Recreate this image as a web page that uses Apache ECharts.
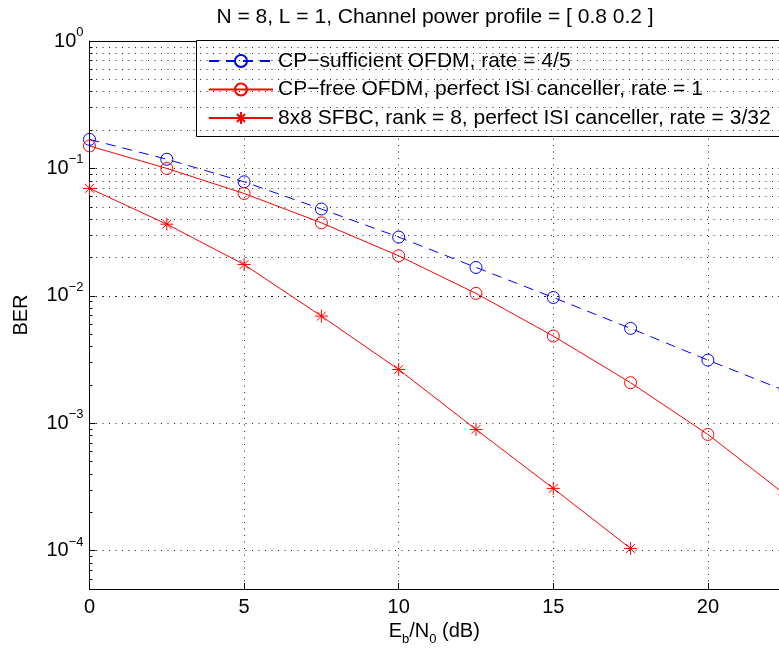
<!DOCTYPE html>
<html>
<head>
<meta charset="utf-8">
<script src="https://cdn.jsdelivr.net/npm/echarts@6/dist/echarts.min.js"></script>
<style>
  html, body { margin: 0; padding: 0; background: #fff; }
  #ber_chart { width: 779px; height: 653px; }
</style>
</head>
<body>
<div id="ber_chart"></div>
<script>
// Eb/N0 (dB) sample points
const ebn0 = [0, 2.5, 5, 7.5, 10, 12.5, 15, 17.5, 20, 22.5];
const ebn0_sfbc = [0, 2.5, 5, 7.5, 10, 12.5, 15, 17.5];

// BER
const ber_cp_sufficient = [0.169, 0.118, 0.0785, 0.048, 0.0289, 0.0167, 0.0097, 0.00555, 0.00313, 0.0018];
const ber_cp_free = [0.150, 0.0999, 0.0636, 0.0374, 0.0206, 0.01045, 0.00483, 0.00208, 0.000817, 0.000276];
const ber_sfbc = [0.0697, 0.0365, 0.0176, 0.00693, 0.00264, 0.000894, 0.000308, 0.000104];

const series_names = [
  'CP−sufficient OFDM, rate = 4/5',
  'CP−free OFDM, perfect ISI canceller, rate = 1',
  '8x8 SFBC, rank = 8, perfect ISI canceller, rate = 3/32'
];

// minor grid rows of the log axis (2..9 per decade)
const minor_mantissa = [2, 3, 4, 5, 6, 7, 8, 9];
const minor_decades = [1e-5, 1e-4, 1e-3, 1e-2, 1e-1];

const font = 'Liberation Sans, Arial, Helvetica, sans-serif';
const star = 'path://M5,0L5,10M0,5L10,5M1.6,1.6L8.4,8.4M8.4,1.6L1.6,8.4';
const dots = {color: '#222', width: 1, type: [1, 5.5]};

const minor_rows = [];
minor_decades.forEach(d => {
  minor_mantissa.forEach(m => {
    const v = m * d;
    if (v > 5.01e-5 && v < 1) minor_rows.push({yAxis: v});
  });
});

const pairs = (xs, ys) => ys.map((y, i) => [xs[i], y]);

const sup = (v) => {
  const e = Math.round(Math.log10(v));
  if (Math.abs(Math.log10(v) - e) > 1e-6) return '';
  return '{b|10}{s|' + (e < 0 ? '−' + (-e) : e) + '}';
};

const chart = echarts.init(document.getElementById('ber_chart'));
const option = {
  backgroundColor: '#fff',
  animation: false,
  title: {
    text: 'N = 8, L = 1, Channel power profile = [ 0.8 0.2 ]',
    left: 435,
    top: 7,
    padding: 0,
    textAlign: 'center',
    textStyle: {fontSize: 21, fontWeight: 'normal', color: '#000', fontFamily: font}
  },
  // legend box runs past the right edge of the picture
  graphic: [{
    type: 'rect',
    z: 3,
    silent: true,
    shape: {x: 196.5, y: 40.5, width: 700, height: 96},
    style: {fill: '#fff', stroke: '#000', lineWidth: 1}
  }],
  legend: {
    data: series_names,
    orient: 'vertical',
    left: 196,
    top: 40,
    padding: [9, 40, 8, 12],
    itemGap: 4.5,
    itemWidth: 64,
    itemHeight: 15,
    z: 4,
    borderWidth: 0,
    selectedMode: false,
    textStyle: {fontSize: 21, lineHeight: 24, color: '#000', fontFamily: font}
  },
  grid: {left: 89.5, right: 0, top: 41, bottom: 64, containLabel: false},
  xAxis: [
    {
      type: 'value',
      min: 0,
      max: 22.3,
      interval: 5,
      name: '{n|E}{sub|b}{n|/N}{sub|0}{n| (dB)}',
      nameLocation: 'middle',
      nameGap: 24,
      nameTextStyle: {
        rich: {
          n: {fontSize: 20, color: '#000', fontFamily: font},
          sub: {fontSize: 13, color: '#000', fontFamily: font, padding: [16, 0, 0, 0]}
        }
      },
      axisLine: {lineStyle: {color: '#000', width: 1}},
      axisTick: {inside: true, length: 6, lineStyle: {color: '#000'}},
      axisLabel: {fontSize: 20, color: '#000', fontFamily: font, margin: 8, showMaxLabel: false},
      splitLine: {show: true, lineStyle: dots}
    },
    {
      type: 'value',
      position: 'top',
      min: 0,
      max: 22.3,
      interval: 5,
      axisLine: {lineStyle: {color: '#000', width: 1}},
      axisTick: {inside: true, length: 6, lineStyle: {color: '#000'}},
      axisLabel: {show: false},
      splitLine: {show: false}
    }
  ],
  yAxis: {
    type: 'log',
    logBase: 10,
    min: 5e-5,
    max: 1,
    name: 'BER',
    nameLocation: 'middle',
    nameGap: 58,
    nameTextStyle: {fontSize: 20, color: '#000', fontFamily: font},
    axisLine: {show: true, lineStyle: {color: '#000', width: 1}},
    axisTick: {inside: true, length: 6, lineStyle: {color: '#000'}},
    minorTick: {show: true, splitNumber: 9, length: 3, lineStyle: {color: '#000'}},
    axisLabel: {
      margin: 6,
      formatter: sup,
      rich: {
        b: {fontSize: 20, color: '#000', fontFamily: font},
        s: {fontSize: 13, color: '#000', fontFamily: font, padding: [0, 0, 17, 0]}
      }
    },
    splitLine: {show: true, lineStyle: dots}
  },
  series: [
    {
      name: 'minor_grid',
      type: 'line',
      data: [],
      silent: true,
      z: 1,
      markLine: {
        silent: true,
        symbol: 'none',
        label: {show: false},
        lineStyle: dots,
        animation: false,
        data: minor_rows
      }
    },
    {
      name: series_names[0],
      type: 'line',
      data: pairs(ebn0, ber_cp_sufficient),
      clip: false,
      symbol: 'circle',
      symbolSize: 12,
      lineStyle: {color: '#0000ff', width: 1, type: [10, 7]},
      itemStyle: {color: 'rgba(0,0,0,0)', borderColor: '#0000ff', borderWidth: 1}
    },
    {
      name: series_names[1],
      type: 'line',
      data: pairs(ebn0, ber_cp_free),
      clip: false,
      symbol: 'circle',
      symbolSize: 12,
      lineStyle: {color: '#ff0000', width: 1},
      itemStyle: {color: 'rgba(0,0,0,0)', borderColor: '#ff0000', borderWidth: 1}
    },
    {
      name: series_names[2],
      type: 'line',
      data: pairs(ebn0_sfbc, ber_sfbc),
      symbol: star,
      symbolSize: 13,
      lineStyle: {color: '#ff0000', width: 1},
      itemStyle: {color: '#ff0000', borderColor: '#ff0000', borderWidth: 1}
    }
  ]
};
chart.setOption(option);
</script>
</body>
</html>
